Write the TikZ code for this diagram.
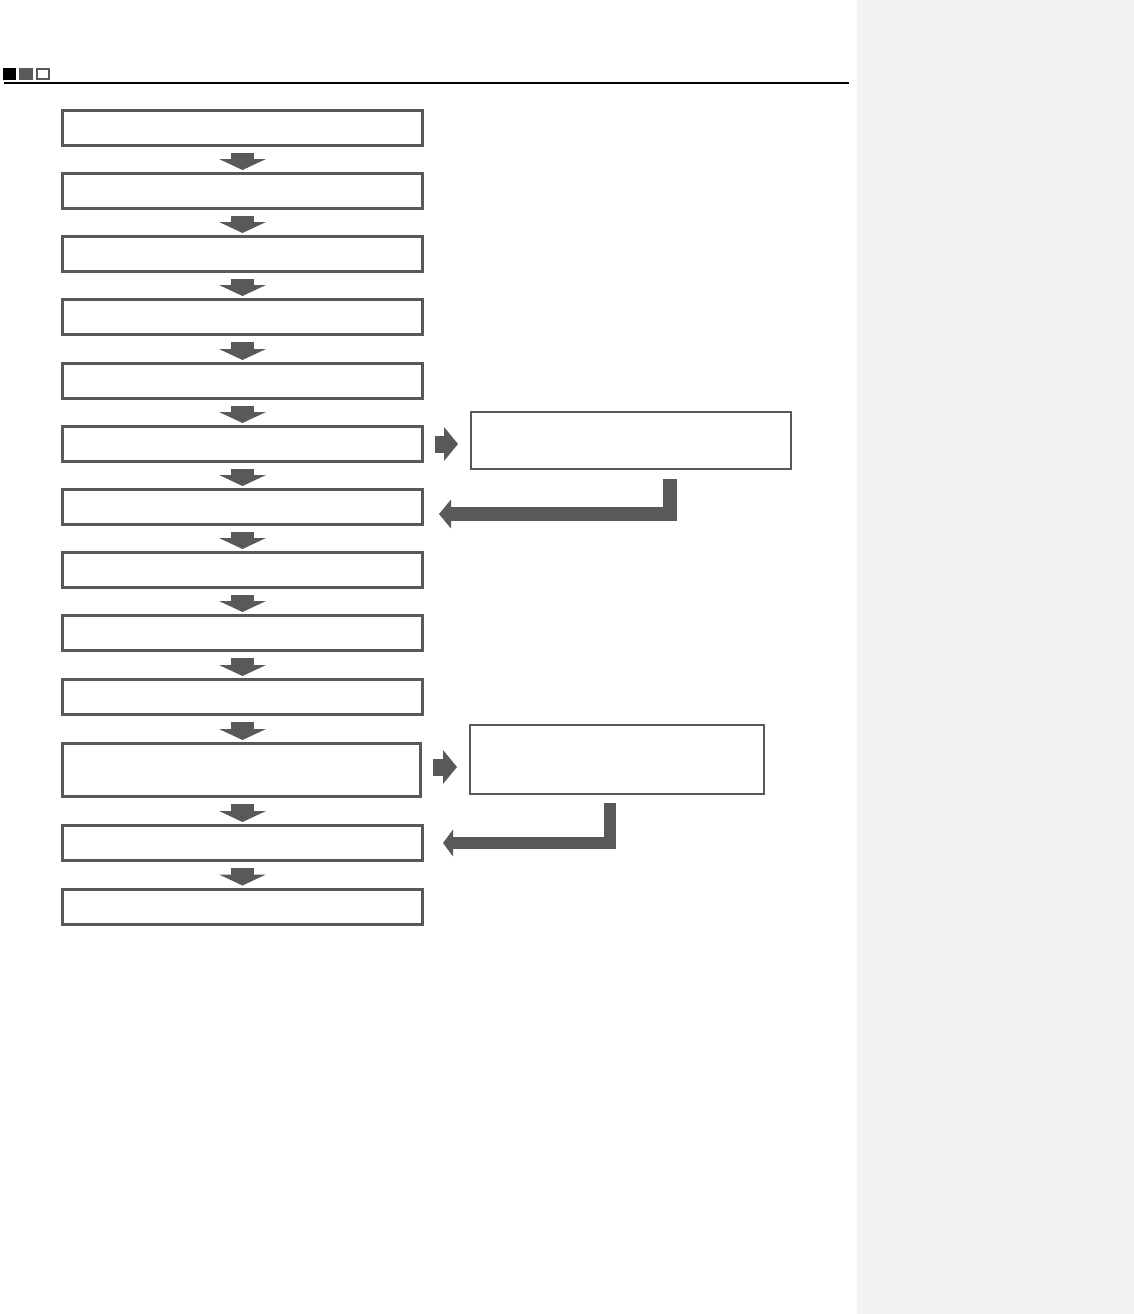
\documentclass[tikz,border=0pt]{standalone}
\usetikzlibrary{arrows.meta}
\definecolor{boxgray}{HTML}{595959}
\definecolor{panelgray}{HTML}{F2F2F2}

\begin{document}
\begin{tikzpicture}[
  x=1pt,y=-1pt,
  stepbox/.style={rectangle,draw=boxgray,line width=3pt,fill=white,inner sep=0pt,minimum width=360pt,minimum height=35pt},
  sidebox/.style={rectangle,draw=boxgray,line width=2pt,fill=white,inner sep=0pt},
  downarrow/.style={draw=boxgray,line width=23pt,shorten <=6pt,shorten >=2pt,
    -{Triangle[length=11pt,width=47pt,line width=0pt]}},
  rightarrow/.style={draw=boxgray,line width=17pt,shorten <=11pt,shorten >=12pt,
    -{Triangle[length=14pt,width=34pt,line width=0pt]}},
  backarrow/.style={draw=boxgray,line join=miter}
]
\useasboundingbox (0,0) rectangle (1134,1314);
\fill[panelgray] (857,0) rectangle (1134,1314);

% header marks
\fill[black] (3,68) rectangle (16,80);
\fill[boxgray] (19,68) rectangle (33,80);
\draw[boxgray,line width=1.2pt] (37,69) rectangle (49,79);
\draw[black,line width=1.2pt] (4,83) -- (849,83);

% main column
\node[stepbox] (s1) at (242.5,127.5) {};
\node[stepbox] (s2) at (242.5,191) {};
\node[stepbox] (s3) at (242.5,254) {};
\node[stepbox] (s4) at (242.5,317) {};
\node[stepbox] (s5) at (242.5,381) {};
\node[stepbox] (s6) at (242.5,444) {};
\node[stepbox] (s7) at (242.5,507) {};
\node[stepbox] (s8) at (242.5,570) {};
\node[stepbox] (s9) at (242.5,633) {};
\node[stepbox] (s10) at (242.5,697) {};
\node[stepbox,minimum width=358pt,minimum height=53pt] (s11) at (241.5,770) {};
\node[stepbox] (s12) at (242.5,843) {};
\node[stepbox] (s13) at (242.5,906.5) {};

% side boxes
\node[sidebox,minimum width=320pt,minimum height=57pt] (rA) at (631,440.5) {};
\node[sidebox,minimum width=294pt,minimum height=69pt] (rB) at (617,759.5) {};

\draw[downarrow] (s1) -- (s2);
\draw[downarrow] (s2) -- (s3);
\draw[downarrow] (s3) -- (s4);
\draw[downarrow] (s4) -- (s5);
\draw[downarrow] (s5) -- (s6);
\draw[downarrow] (s6) -- (s7);
\draw[downarrow] (s7) -- (s8);
\draw[downarrow] (s8) -- (s9);
\draw[downarrow] (s9) -- (s10);
\draw[downarrow] (s10.south) -- (s11.north -| s10.south);
\draw[downarrow] (s11.south -| s12.north) -- (s12.north);
\draw[downarrow] (s12) -- (s13);

\draw[rightarrow] (s6.east) -- (s6.east -| rA.west);
\draw[rightarrow] ([yshift=3pt]s11.east) -- ([yshift=3pt]s11.east -| rB.west);

\draw[backarrow,line width=14.5pt,shorten <=9pt,shorten >=15pt,
  -{Triangle[length=12pt,width=29pt,line width=0pt]}]
  ([xshift=39pt]rA.south) |- ([yshift=-7pt]s7.east);
\draw[backarrow,line width=12.5pt,shorten <=8pt,shorten >=19pt,
  -{Triangle[length=10pt,width=27pt,line width=0pt]}]
  ([xshift=-7pt]rB.south) |- (s12.east);
\end{tikzpicture}
\end{document}
